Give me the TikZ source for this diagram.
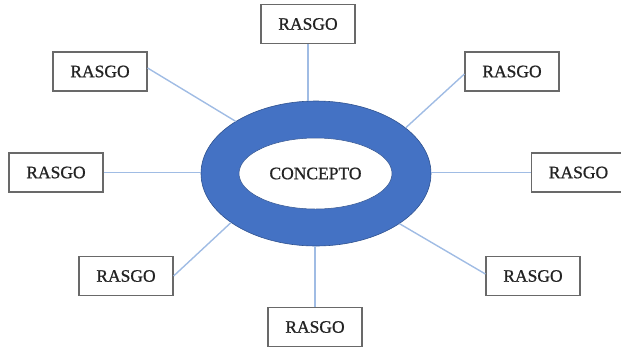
\documentclass[tikz,border=0pt]{standalone}
\usepackage{fontspec}
\setmainfont{Liberation Serif}[FakeBold=0.9]
\usetikzlibrary{shapes.geometric}
\definecolor{ringblue}{RGB}{68,114,196}
\definecolor{ringedge}{RGB}{47,82,143}
\definecolor{spoke}{RGB}{160,188,228}
\definecolor{boxedge}{RGB}{105,105,105}
\newcommand{\labelfont}{\fontsize{17.5}{20}\selectfont\color[RGB]{35,35,35}}
\tikzset{
  trait/.style={draw=boxedge, line width=1.2pt, fill=white, minimum width=94pt,
    minimum height=39pt, inner sep=0pt, font=\labelfont},
  link/.style={draw=spoke, line width=1.4pt},
}
\begin{document}
\begin{tikzpicture}[x=1pt, y=-1pt]
\useasboundingbox (0,0) rectangle (621,349);
% central ring with the concept in its white core
\node[ellipse, draw=ringedge, line width=0.6pt, fill=ringblue,
      minimum width=230pt, minimum height=145pt, inner sep=0pt] (ring) at (316,173.5) {};
\node[ellipse, draw=ringedge, line width=0.5pt, fill=white,
      minimum width=153pt, minimum height=71pt, inner sep=0pt,
      font=\labelfont] (concept) at (315.5,173.5) {CONCEPTO};

% surrounding traits
\node[trait] (t)  at (308,24)    {RASGO};
\node[trait] (tl) at (100,71.5)  {RASGO};
\node[trait] (tr) at (512,71.5)  {RASGO};
\node[trait] (l)  at (56,172.5)  {RASGO};
\node[trait] (r)  at (578.5,172.5) {RASGO};
\node[trait] (bl) at (126,276)  {RASGO};
\node[trait] (br) at (533,276)  {RASGO};
\node[trait] (b)  at (315,327)  {RASGO};

% spokes from each trait to the ring
\draw[link] (t.south) -- (t.south |- ring.north);
\draw[link] (b.north) -- (b.north |- ring.south);
\draw[link] (l.east) -- (l.east -| ring.west);
\draw[link] (r.west) -- (r.west -| ring.east);
\draw[link] ([yshift=3.5pt]tl.east) -- (ring.147);
\draw[link] ([yshift=-2.5pt]tr.west) -- (ring.27);
\draw[link] (bl.east) -- (ring.210.5);
\draw[link] ([yshift=2pt]br.west) -- (ring.329.5);
\end{tikzpicture}
\end{document}
